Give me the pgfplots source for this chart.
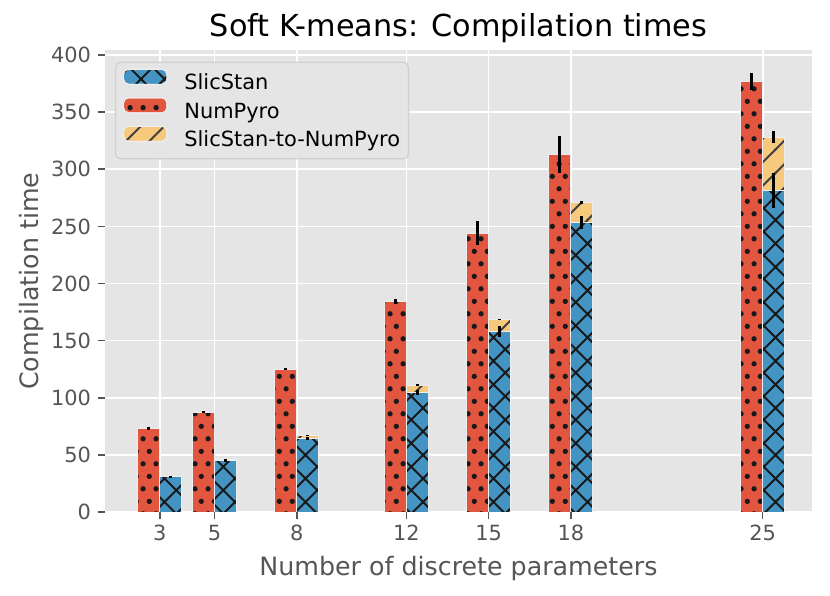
\documentclass[border=0pt]{standalone}
\usepackage{fontspec}
\setmainfont{DejaVu Sans}
\usepackage{pgfplots}
\pgfplotsset{compat=1.18}
\usetikzlibrary{patterns}

\definecolor{bgGray}{HTML}{E5E5E5}
\definecolor{labelGray}{HTML}{555555}
\definecolor{cRed}{HTML}{E2553F}
\definecolor{cBlue}{HTML}{4494C3}
\definecolor{cYellow}{HTML}{F6C97D}
\definecolor{barEdge}{HTML}{EEEEEE}
\definecolor{legEdge}{HTML}{D0D0D0}

\pgfdeclarepatternformonly{mydots}{\pgfpointorigin}{\pgfpoint{6.35bp}{12.7bp}}{\pgfpoint{6.35bp}{12.7bp}}{%
  \pgfpathcircle{\pgfpoint{1.5875bp}{3.175bp}}{1.35bp}%
  \pgfpathcircle{\pgfpoint{4.7625bp}{9.525bp}}{1.35bp}%
  \pgfusepath{fill}}
\pgfdeclarepatternformonly{mycross}{\pgfpoint{-1bp}{-1bp}}{\pgfpoint{12.75bp}{12.75bp}}{\pgfpoint{11.75bp}{11.75bp}}{%
  \pgfsetlinewidth{1.05bp}%
  \pgfpathmoveto{\pgfpoint{-0.5bp}{-0.5bp}}\pgfpathlineto{\pgfpoint{12.25bp}{12.25bp}}%
  \pgfpathmoveto{\pgfpoint{-0.5bp}{12.25bp}}\pgfpathlineto{\pgfpoint{12.25bp}{-0.5bp}}%
  \pgfusepath{stroke}}
\pgfdeclarepatternformonly{myslash}{\pgfpoint{-1bp}{-1bp}}{\pgfpoint{12.75bp}{12.75bp}}{\pgfpoint{11.75bp}{11.75bp}}{%
  \pgfsetlinewidth{1.05bp}%
  \pgfpathmoveto{\pgfpoint{-0.5bp}{-0.5bp}}\pgfpathlineto{\pgfpoint{12.25bp}{12.25bp}}%
  \pgfusepath{stroke}}

\pgfplotsset{
  mylegend/.style={legend image code/.code={\draw[##1] (0bp,0bp) rectangle (21.7bp,7.5bp);}},
  numpyro/.style={ybar, bar width=0.8, bar shift=-0.4, fill=cRed, draw=barEdge, line width=0.5bp,
     postaction={pattern=mydots, pattern color=black!90}, mylegend},
  slicstan/.style={ybar, bar width=0.8, bar shift=0.4, fill=cBlue, draw=barEdge, line width=0.5bp,
     postaction={pattern=mycross, pattern color=black!90}, mylegend},
  stackpart/.style={ybar, bar width=0.8, bar shift=0.4, fill=cYellow, draw=barEdge, line width=0.5bp,
     postaction={pattern=myslash, pattern color=black!75}, mylegend},
  errs/.style={draw=none, no markers, forget plot,
     error bars/.cd, y dir=both, y explicit, error mark=none,
     error bar style={draw=black, line width=1.6bp}},
}

\begin{document}
\begin{tikzpicture}
\path[use as bounding box] (-52.5bp,-42bp) rectangle (362.5bp,256bp);
\begin{axis}[
  name=ax, at={(0,0)}, anchor=south west,
  scale only axis, width=353.5bp, height=230.75bp,
  xmin=1.0, xmax=26.8, ymin=0, ymax=404,
  xtick={3,5,8,12,15,18,25},
  ytick={0,50,...,400},
  axis background/.style={fill=bgGray},
  axis line style={draw=none},
  grid=major, major grid style={draw=white, line width=0.85bp},
  tick align=outside, major tick length=3.5bp,
  xtick pos=lower, ytick pos=left,
  tick style={draw=labelGray, line width=0.8bp},
  tick label style={font=\fontsize{10.5}{12.6}\selectfont, text=labelGray},
  /pgf/number format/assume math mode=true,
  xticklabel style={anchor=base, yshift=-10.75bp},
  yticklabel style={anchor=east},
  legend cell align=left,
  legend style={at={(0,1)}, anchor=north west, xshift=5bp, yshift=-5.6bp,
    fill=bgGray, draw=legEdge, line width=0.6bp, rounded corners=2.5bp,
    font=\fontsize{10.5}{12.6}\selectfont, text=black,
    inner xsep=3.7bp, inner ysep=3.25bp, row sep=1bp,
    nodes={inner sep=0.5bp, text height=7.7bp, text depth=2.3bp},
    /tikz/every odd column/.append style={column sep=8bp}},
]
% NumPyro bars
\addplot[numpyro, forget plot] coordinates {(3,73.3) (5,87.5) (8,125.0) (12,184.4) (15,244.2) (18,313.0) (25,377.2)};
% SlicStan-to-NumPyro (stack top, drawn from 0, lower part covered by SlicStan)
\addplot[stackpart, forget plot] coordinates {(3,31.5) (5,46.1) (8,67.1) (12,110.9) (15,168.6) (18,271.0) (25,328.0)};
% SlicStan bars
\addplot[slicstan, forget plot] coordinates {(3,30.9) (5,44.9) (8,64.5) (12,104.5) (15,157.8) (18,253.5) (25,281.3)};
% error bars
\addplot[errs] coordinates {(2.6,73.3) +- (0,1.5) (4.6,87.5) +- (0,0.8) (7.6,125.0) +- (0,0.8) (11.6,184.4) +- (0,2.0) (14.6,244.2) +- (0,10.5) (17.6,313.0) +- (0,16.5) (24.6,377.2) +- (0,7.5)};
\addplot[errs] coordinates {(3.4,30.9) +- (0,0.5) (5.4,44.9) +- (0,0.6) (8.4,64.5) +- (0,1.2) (12.4,104.5) +- (0,2.5) (15.4,157.8) +- (0,5.0) (18.4,253.5) +- (0,6.0) (25.4,281.3) +- (0,15.2)};
\addplot[errs] coordinates {(3.4,31.5) +- (0,0.3) (5.4,46.1) +- (0,0.3) (8.4,67.1) +- (0,0.4) (12.4,110.9) +- (0,0.8) (15.4,168.6) +- (0,0.6) (18.4,271.0) +- (0,1.0) (25.4,328.0) +- (0,5.3)};
% legend
\addlegendimage{slicstan}\addlegendentry{SlicStan}
\addlegendimage{numpyro}\addlegendentry{NumPyro}
\addlegendimage{stackpart}\addlegendentry{SlicStan-to-NumPyro}
\end{axis}
\node[anchor=base, font=\fontsize{15.2}{18}\selectfont, text=black] at ([yshift=7bp]ax.north) {Soft K-means: Compilation times};
\node[anchor=base, font=\fontsize{12.7}{15}\selectfont, text=labelGray] at ([yshift=-31.5bp]ax.south) {Number of discrete parameters};
\node[anchor=base, rotate=90, font=\fontsize{12.7}{15}\selectfont, text=labelGray] at ([xshift=-33.25bp]ax.west) {Compilation time};
\end{tikzpicture}
\end{document}
